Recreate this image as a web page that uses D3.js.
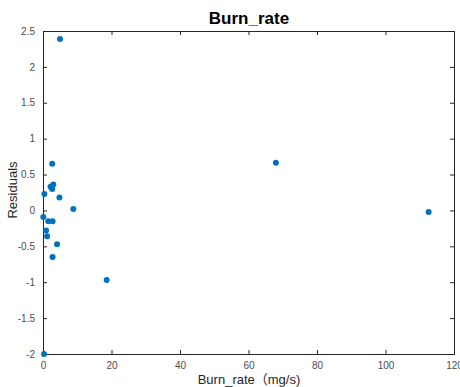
<!DOCTYPE html>
<html>
<head>
<meta charset="utf-8">
<script src="https://cdn.jsdelivr.net/npm/d3@7"></script>
<style>
  body { margin: 0; background: #fff; }
  svg { display: block; }
  .tick text { font-family: "Liberation Sans", Arial, sans-serif; font-size: 10px; fill: #4d4d4d; }
</style>
</head>
<body>
<svg id="chart" width="460" height="387"></svg>
<script>
// residuals vs burn rate
const burnRate = [4.96, 2.7, 0.4, 2.2, 3.0, 2.7, 4.8, 8.85, 0.1, 1.55, 2.8, 0.9, 1.2, 4.1, 2.8, 18.6, 0.3, 68.0, 112.6];
const residuals = [2.39, 0.65, 0.23, 0.33, 0.36, 0.30, 0.18, 0.02, -0.09, -0.15, -0.15, -0.28, -0.36, -0.47, -0.65, -0.97, -2.0, 0.665, -0.02];
const xTicks = [0, 20, 40, 60, 80, 100, 120];
const yTicks = [-2, -1.5, -1, -0.5, 0, 0.5, 1, 1.5, 2, 2.5];

const svg = d3.select("#chart"),
    mLeft = 43, mRight = 454, mTop = 31, mBottom = 354,
    axisColor = "#262626";

const x = d3.scaleLinear().domain([0, 120]).range([mLeft, mRight]);
const y = d3.scaleLinear().domain([-2, 2.5]).range([mBottom, mTop]);

const tickLen = 4;

// bottom axis
svg.append("g")
    .attr("transform", "translate(0," + mBottom + ")")
    .call(d3.axisBottom(x).tickValues(xTicks).tickSize(-tickLen).tickPadding(8).tickFormat(d3.format("d")))
    .call(g => g.select(".domain").remove());
// top ticks
svg.append("g")
    .attr("transform", "translate(0," + mTop + ")")
    .call(d3.axisTop(x).tickValues(xTicks).tickSize(-tickLen).tickFormat(""))
    .call(g => g.select(".domain").remove());
// left axis
svg.append("g")
    .attr("transform", "translate(" + mLeft + ",0)")
    .call(d3.axisLeft(y).tickValues(yTicks).tickSize(-tickLen).tickPadding(8).tickFormat(d => String(d)))
    .call(g => g.select(".domain").remove());
// right ticks
svg.append("g")
    .attr("transform", "translate(" + mRight + ",0)")
    .call(d3.axisRight(y).tickValues(yTicks).tickSize(-tickLen).tickFormat(""))
    .call(g => g.select(".domain").remove());

svg.selectAll(".tick line").attr("stroke", axisColor);

// box
svg.append("rect")
    .attr("x", mLeft + 0.5).attr("y", mTop + 0.5)
    .attr("width", mRight - mLeft).attr("height", mBottom - mTop)
    .attr("fill", "none").attr("stroke", axisColor).attr("stroke-width", 1);

// points
svg.append("g")
    .selectAll("circle")
    .data(burnRate.map((b, i) => [b, residuals[i]]))
    .enter().append("circle")
    .attr("cx", d => x(d[0]))
    .attr("cy", d => y(d[1]))
    .attr("r", 3)
    .attr("fill", "#0072BD");

// title and labels
svg.append("text")
    .attr("x", 249).attr("y", 24)
    .attr("text-anchor", "middle")
    .style("font-family", "'Liberation Sans', Arial, sans-serif")
    .style("font-weight", "bold")
    .style("font-size", "17px")
    .attr("fill", "#000")
    .text("Burn_rate");

svg.append("text")
    .attr("x", 249).attr("y", 384)
    .attr("text-anchor", "middle")
    .style("font-family", "'Liberation Sans', Arial, 'Noto Sans CJK SC', sans-serif")
    .style("font-size", "13px")
    .attr("fill", "#262626")
    .text("Burn_rate\uFF08mg/s)");

svg.append("text")
    .attr("transform", "translate(17,190) rotate(-90)")
    .attr("text-anchor", "middle")
    .style("font-family", "'Liberation Sans', Arial, sans-serif")
    .style("font-size", "13px")
    .attr("fill", "#262626")
    .text("Residuals");
</script>
</body>
</html>
